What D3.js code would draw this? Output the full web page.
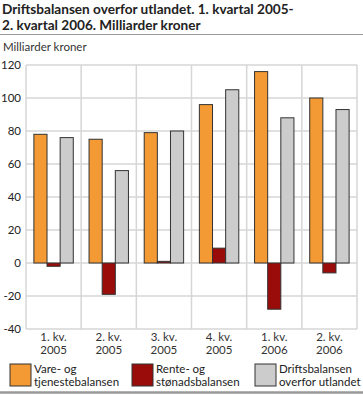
<!DOCTYPE html>
<html>
<head>
<meta charset="utf-8">
<script src="https://cdn.jsdelivr.net/npm/d3@7"></script>
<style>
body { margin: 0; background: #fff; }
text { font-family: Lato, sans-serif; fill: #222; }
</style>
</head>
<body>
<svg id="chart" width="363" height="395"></svg>
<script>
var quarters = ["1. kv.|2005", "2. kv.|2005", "3. kv.|2005", "4. kv.|2005", "1. kv.|2006", "2. kv.|2006"];
var vare = [78, 75, 79, 96, 116, 100];
var rente = [-2, -19, 1, 9, -28, -6];
var drift = [76, 56, 80, 105, 88, 93];
var yTicks = [-40, -20, 0, 20, 40, 60, 80, 100, 120];
var seriesNames = ["Vare- og|tjenestebalansen", "Rente- og|stønadsbalansen", "Driftsbalansen|overfor utlandet"];
var colors = ["#f39a34", "#990c0a", "#cccccc"];

var svg = d3.select("#chart");

// title
svg.append("text").attr("x", 2).attr("y", 13.5)
	.style("font-size", "13.6px").style("font-weight", "bold")
	.text("Driftsbalansen overfor utlandet. 1. kvartal 2005-");
svg.append("text").attr("x", 2).attr("y", 29.5)
	.style("font-size", "13.6px").style("font-weight", "bold")
	.text("2. kvartal 2006. Milliarder kroner");
svg.append("line").attr("x1", 0).attr("x2", 363).attr("y1", 34.5).attr("y2", 34.5)
	.attr("stroke", "#999").attr("stroke-width", 1);
svg.append("text").attr("x", 3).attr("y", 51)
	.style("font-size", "11.5px").style("fill", "#333")
	.text("Milliarder kroner");

var x0 = d3.scaleBand().domain(quarters).range([26, 357]);
var x1 = d3.scaleBand().domain([0, 1, 2]).range([0, x0.bandwidth()]).paddingOuter(0.6).paddingInner(0);
var y = d3.scaleLinear().domain([-40, 120]).range([329, 65]);

var grid = svg.append("g");
grid.selectAll("line.h").data(yTicks).enter().append("line")
	.attr("x1", 26).attr("x2", 357)
	.attr("y1", function (d) { return y(d); }).attr("y2", function (d) { return y(d); })
	.attr("stroke", "#d6d6d6").attr("stroke-width", 1.5);
grid.selectAll("line.v").data(quarters.concat(["end"])).enter().append("line")
	.attr("x1", function (d, i) { return 26 + i * x0.step(); })
	.attr("x2", function (d, i) { return 26 + i * x0.step(); })
	.attr("y1", y(120)).attr("y2", y(-40))
	.attr("stroke", "#d6d6d6").attr("stroke-width", 1.5);

// y tick labels
svg.selectAll("text.yt").data(yTicks).enter().append("text")
	.attr("x", 21).attr("y", function (d) { return y(d) + 4; })
	.attr("text-anchor", "end").style("font-size", "11.5px")
	.text(function (d) { return d; });

// bars
var series = [vare, rente, drift];
series.forEach(function (vals, s) {
	svg.append("g").selectAll("rect").data(vals).enter().append("rect")
		.attr("x", function (d, i) { return x0(quarters[i]) + x1(s); })
		.attr("width", x1.bandwidth())
		.attr("y", function (d) { return y(Math.max(0, d)); })
		.attr("height", function (d) { return Math.abs(y(d) - y(0)); })
		.attr("fill", colors[s])
		.attr("stroke", "#333").attr("stroke-width", 1);
});

// x labels
var xl = svg.selectAll("text.xl").data(quarters).enter().append("text")
	.attr("text-anchor", "middle").style("font-size", "11.5px").style("fill", "#333")
	.attr("x", function (d) { return x0(d) + x0.bandwidth() / 2; });
xl.append("tspan").attr("y", 341).attr("x", function (d) { return x0(d) + x0.bandwidth() / 2; })
	.text(function (d) { return d.split("|")[0]; });
xl.append("tspan").attr("y", 354).attr("x", function (d) { return x0(d) + x0.bandwidth() / 2; })
	.text(function (d) { return d.split("|")[1]; });

// legend
var legX = [10, 132, 255];
seriesNames.forEach(function (name, s) {
	var g = svg.append("g").attr("transform", "translate(" + legX[s] + ",364)");
	g.append("rect").attr("x", 0).attr("y", 0).attr("width", 21).attr("height", 22)
		.attr("fill", colors[s]).attr("stroke", "#333").attr("stroke-width", 1);
	g.append("text").attr("x", 24).attr("y", 9).style("font-size", "11.5px").text(name.split("|")[0]);
	g.append("text").attr("x", 24).attr("y", 22).style("font-size", "11.5px").text(name.split("|")[1]);
});

svg.append("line").attr("x1", 0).attr("x2", 363).attr("y1", 392.5).attr("y2", 392.5)
	.attr("stroke", "#999").attr("stroke-width", 2.5);
</script>
</body>
</html>
